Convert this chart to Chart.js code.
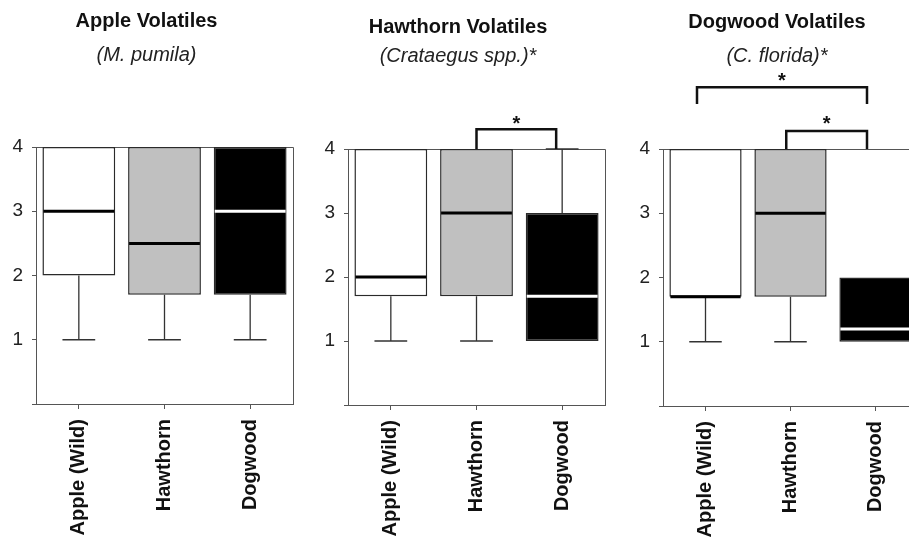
<!DOCTYPE html>
<html>
<head>
<meta charset="utf-8">
<script src="https://cdn.jsdelivr.net/npm/chart.js@4.4.0/dist/chart.umd.min.js"></script>
<style>
  html, body { margin: 0; padding: 0; background: #fff; overflow: hidden; }
  body { width: 909px; height: 540px; position: relative; }
  canvas { position: absolute; top: 0; }
</style>
</head>
<body>
<canvas id="apple" width="300" height="540" style="left:0px"></canvas>
<canvas id="hawthorn" width="303" height="540" style="left:303px"></canvas>
<canvas id="dogwood" width="320" height="540" style="left:606px"></canvas>
<script>
const categories = ['Apple (Wild)', 'Hawthorn', 'Dogwood'];
const boxColors = ['#ffffff', '#c0c0c0', '#000000'];
const medianColors = ['#000000', '#000000', '#ffffff'];
const yTicks = [0, 1, 2, 3, 4];

// Apple volatiles (M. pumila)
const appleLow = [1, 1, 1];
const appleQ1 = [2, 1.7, 1.7];
const appleMedian = [3, 2.5, 3];
const appleQ3 = [4, 4, 4];
const appleHigh = [4, 4, 4];

// Hawthorn volatiles (Crataegus spp.)
const hawLow = [1, 1, 1];
const hawQ1 = [1.7, 1.7, 1];
const hawMedian = [2, 3, 1.7];
const hawQ3 = [4, 4, 3];
const hawHigh = [4, 4, 4];

// Dogwood volatiles (C. florida)
const dogLow = [1, 1, 1];
const dogQ1 = [1.7, 1.7, 1];
const dogMedian = [1.7, 3, 1.2];
const dogQ3 = [4, 4, 2];
const dogHigh = [4, 4, 2];

// significance brackets: [from category, to category, bar height, leg end, star height]
const appleBrackets = [];
const hawBrackets = [[1.0, 1.93, 4.31, 4.0, 4.45]];
const dogBrackets = [[-0.1, 1.9, 4.96, 4.7, 5.12], [0.95, 1.9, 4.28, 4.0, 4.45]];

Chart.defaults.font.family = "'Liberation Sans', Arial, sans-serif";

const frame = {
  id: 'frame',
  beforeDatasetsDraw(chart) {
    const {ctx, chartArea: a} = chart;
    ctx.save();
    ctx.strokeStyle = '#555';
    ctx.lineWidth = 1;
    ctx.beginPath();
    ctx.moveTo(a.left, a.top + 0.5);
    ctx.lineTo(a.right + 0.5, a.top + 0.5);
    ctx.lineTo(a.right + 0.5, a.bottom);
    ctx.stroke();
    ctx.restore();
  }
};

const boxPlot = {
  id: 'boxPlot',
  afterDatasetsDraw(chart, args, opts) {
    const {ctx, scales: {y}} = chart;
    const meta = chart.getDatasetMeta(0);
    ctx.save();
    opts.low.forEach((lo, i) => {
      const bar = meta.data[i];
      const cx = bar.x, half = bar.width / 2, cap = half * 0.45;
      const yLo = y.getPixelForValue(lo), yQ1 = y.getPixelForValue(opts.q1[i]);
      const yQ3 = y.getPixelForValue(opts.q3[i]), yHi = y.getPixelForValue(opts.high[i]);
      ctx.strokeStyle = '#333';
      ctx.lineWidth = 1.3;
      ctx.beginPath();
      if (lo < opts.q1[i]) {
        ctx.moveTo(cx, yQ1); ctx.lineTo(cx, yLo);
        ctx.moveTo(cx - cap, yLo); ctx.lineTo(cx + cap, yLo);
      }
      if (opts.high[i] > opts.q3[i]) {
        ctx.moveTo(cx, yQ3); ctx.lineTo(cx, yHi);
        ctx.moveTo(cx - cap, yHi); ctx.lineTo(cx + cap, yHi);
      }
      ctx.stroke();
      const ym = y.getPixelForValue(opts.median[i]);
      ctx.strokeStyle = medianColors[i];
      ctx.lineWidth = 3;
      ctx.beginPath();
      ctx.moveTo(cx - half + 1, ym);
      ctx.lineTo(cx + half - 1, ym);
      ctx.stroke();
    });
    ctx.restore();
  }
};

const brackets = {
  id: 'brackets',
  afterDraw(chart, args, opts) {
    const {ctx, scales: {x, y}} = chart;
    ctx.save();
    opts.list.forEach(([from, to, top, leg, star]) => {
      const x1 = x.getPixelForValue(from), x2 = x.getPixelForValue(to);
      const yt = y.getPixelForValue(top), yb = y.getPixelForValue(leg);
      ctx.strokeStyle = '#111';
      ctx.lineWidth = 2.5;
      ctx.beginPath();
      ctx.moveTo(x1, yb); ctx.lineTo(x1, yt); ctx.lineTo(x2, yt); ctx.lineTo(x2, yb);
      ctx.stroke();
      ctx.fillStyle = '#111';
      ctx.font = "bold 20px 'Liberation Sans', Arial, sans-serif";
      ctx.textAlign = 'center';
      ctx.textBaseline = 'middle';
      ctx.fillText('*', (x1 + x2) / 2, y.getPixelForValue(star) + 4);
    });
    ctx.restore();
  }
};

function makePanel(id, title, subtitle, low, q1, median, q3, high, marks, pad) {
  return new Chart(document.getElementById(id), {
    type: 'bar',
    data: {
      labels: categories,
      datasets: [{
        data: q1.map((v, i) => [v, q3[i]]),
        backgroundColor: boxColors,
        borderColor: '#2a2a2a',
        borderWidth: 1.5,
        borderSkipped: false,
        barPercentage: 0.85,
        categoryPercentage: 1,
        clip: false
      }]
    },
    options: {
      responsive: false,
      animation: false,
      layout: {padding: {left: pad.left, right: pad.right, top: 0, bottom: 0}},
      plugins: {
        legend: {display: false},
        tooltip: {enabled: false},
        title: {
          display: true, text: title, color: '#111',
          font: {size: 20, weight: 'bold'},
          padding: {top: pad.titleTop, bottom: pad.titleBottom}
        },
        subtitle: {
          display: true, text: subtitle, color: '#222',
          font: {size: 20, style: 'italic', weight: 'normal'},
          padding: {top: 0, bottom: pad.subBottom}
        },
        boxPlot: {low, q1, median, q3, high},
        brackets: {list: marks}
      },
      scales: {
        x: {
          grid: {drawOnChartArea: false, offset: false, tickLength: 5, color: '#555'},
          border: {color: '#555', width: 1},
          ticks: {minRotation: 90, maxRotation: 90, padding: 10, color: '#111', font: {size: 20, weight: 'bold'}},
          afterFit: s => { s.height = pad.xHeight; }
        },
        y: {
          min: 0, max: 4,
          afterBuildTicks: s => { s.ticks = yTicks.map(v => ({value: v})); },
          grid: {drawOnChartArea: false, tickLength: 4, color: '#555'},
          border: {color: '#555', width: 1},
          ticks: {padding: 9, color: '#222', font: {size: 19}, callback: v => v === 0 ? '' : v},
          afterFit: s => { s.width = pad.yWidth; }
        }
      }
    },
    plugins: [frame, boxPlot, brackets]
  });
}

makePanel('apple', 'Apple Volatiles', '(M. pumila)',
  appleLow, appleQ1, appleMedian, appleQ3, appleHigh, appleBrackets,
  {left: 0, right: 7, yWidth: 36, xHeight: 136, titleTop: 9, titleBottom: 10.5, subBottom: 79.5});

makePanel('hawthorn', 'Hawthorn Volatiles', '(Crataegus spp.)*',
  hawLow, hawQ1, hawMedian, hawQ3, hawHigh, hawBrackets,
  {left: 8, right: 1, yWidth: 37, xHeight: 135, titleTop: 15, titleBottom: 5.5, subBottom: 80.5});

makePanel('dogwood', 'Dogwood Volatiles', '(C. florida)*',
  dogLow, dogQ1, dogMedian, dogQ3, dogHigh, dogBrackets,
  {left: 30, right: 8, yWidth: 27, xHeight: 134, titleTop: 10.5, titleBottom: 9.5, subBottom: 81});
</script>
</body>
</html>
